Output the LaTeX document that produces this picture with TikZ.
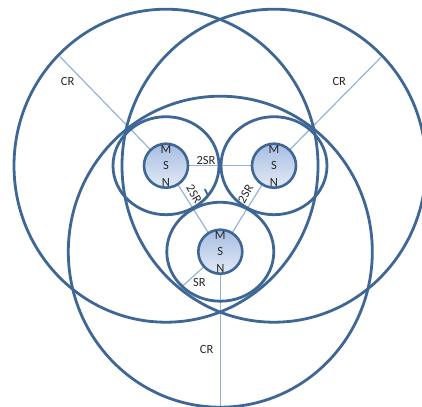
\documentclass[tikz,border=0pt]{standalone}
\usepackage{fontspec}
\setmainfont{Carlito}
\definecolor{ringblue}{HTML}{3F6795}
\definecolor{linkblue}{HTML}{95B3D7}
\definecolor{msntop}{HTML}{A7BDE2}
\definecolor{msnbot}{HTML}{E3EAF6}
\begin{document}
\begin{tikzpicture}[x=1pt,y=-1pt,
  ring/.style={draw=ringblue,line width=2.8pt},
  link/.style={draw=linkblue,line width=1.2pt},
  msn/.style={circle,draw=ringblue,line width=2.6pt,minimum size=44pt,inner sep=0pt,
    top color=msntop,bottom color=msnbot,align=center,text=black!85,
    font=\fontsize{12.5}{16.3}\selectfont},
  lbl/.style={font=\fontsize{12.5}{14}\selectfont,inner sep=0pt,text=black!85}]
\useasboundingbox (0,0) rectangle (422,406);
\coordinate (cL) at (166,165.7);
\coordinate (cR) at (274,165.7);
\coordinate (cB) at (220.3,251.7);
\coordinate (crL) at (60,56.7);
\coordinate (crR) at (381,57.3);
\coordinate (crB) at (220.3,406);
\coordinate (srE) at (182.7,286);
\coordinate (tk1) at (205,189.5);
\coordinate (tk2) at (207.5,194.5);
% connectors
\draw[link] (cL) -- (crL);
\draw[link] (cR) -- (crR);
\draw[link] (cB) -- (crB);
\draw[link] (cB) -- (srE);
\draw[link] (cL) -- (cR);
\draw[link] (cL) -- (cB);
\draw[link] (cR) -- (cB);
% big coverage circles
\draw[ring] (cL) ellipse [x radius=152pt,y radius=156.5pt];
\draw[ring] (cR) ellipse [x radius=152pt,y radius=156.5pt];
\draw[ring] (cB) ellipse [x radius=152pt,y radius=155.5pt];
% sensing circles
\draw[ring] (cL) ellipse [x radius=53pt,y radius=49pt];
\draw[ring] (cR) ellipse [x radius=53pt,y radius=49pt];
\draw[ring] (cB) ellipse [x radius=53.5pt,y radius=49.5pt];
\draw[ring,line width=2pt,line cap=round] (tk1) -- (tk2);
% nodes
\node[msn] (nL) at (cL) {M\\S\\N};
\node[msn] (nR) at (cR) {M\\S\\N};
\node[msn] (nB) at (cB) {M\\S\\N};
% labels
\node[lbl] (l1) at (67.7,81) {CR};
\node[lbl] (l2) at (339.3,81.7) {CR};
\node[lbl] (l3) at (206.7,349.3) {CR};
\node[lbl] (l4) at (206,160) {2SR};
\node[lbl,rotate=-60] (l5) at (194,194) {2SR};
\node[lbl,rotate=60] (l6) at (245.5,194) {2SR};
\node[lbl] (l7) at (199.5,282.7) {SR};
\end{tikzpicture}
\end{document}
